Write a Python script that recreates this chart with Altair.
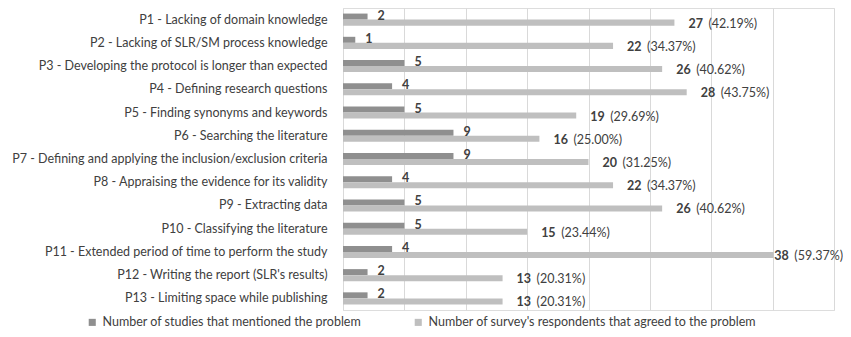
import altair as alt
import pandas as pd

categories = [
    "P1 - Lacking of domain knowledge",
    "P2  - Lacking of SLR/SM process knowledge",
    "P3  - Developing the protocol is longer than expected",
    "P4  - Defining research questions",
    "P5  - Finding synonyms and keywords",
    "P6  - Searching the literature",
    "P7  - Defining and applying the inclusion/exclusion criteria",
    "P8  - Appraising the evidence for its validity",
    "P9  - Extracting data",
    "P10 - Classifying the literature",
    "P11 - Extended period of time to perform the study",
    "P12 - Writing the report (SLR's results)",
    "P13 - Limiting space while publishing",
]
studies = [2, 1, 5, 4, 5, 9, 9, 4, 5, 5, 4, 2, 2]
survey = [27, 22, 26, 28, 19, 16, 20, 22, 26, 15, 38, 13, 13]
survey_pct = ["42.19%", "34.37%", "40.62%", "43.75%", "29.69%", "25.00%", "31.25%",
              "34.37%", "40.62%", "23.44%", "59.37%", "20.31%", "20.31%"]

S1 = "Number of studies that mentioned the problem"
S2 = "Number of survey's respondents that agreed to the problem"
XMAX = 40
LABEL_CLAMP = 34.0  # labels kept inside the chart area

rows = []
for c, a, b in zip(categories, studies, survey):
    rows.append({"cat": c, "series": S1, "value": a})
    rows.append({"cat": c, "series": S2, "value": b})
bars_df = pd.DataFrame(rows)

lab_df = pd.DataFrame({
    "cat": categories,
    "studies": studies,
    "survey": survey,
    "pct": ["(" + p + ")" for p in survey_pct],
})
lab_df["lx"] = lab_df["survey"].clip(upper=LABEL_CLAMP)
lab_df["cover"] = lab_df["lx"] + 1.1

FONT = "Lato"
TXT = "#404040"

xscale = alt.Scale(domain=[0, XMAX], nice=False, zero=True)
yscale = alt.Scale(domain=categories, paddingInner=0.48, paddingOuter=0.24)

base_y = alt.Y("cat:N", sort=categories, scale=yscale, title=None,
               axis=alt.Axis(domainOpacity=0, ticks=False, labelPadding=16, labelLimit=400,
                             labelFont=FONT, labelFontSize=12.5, labelColor=TXT, grid=False))

bars = alt.Chart(bars_df).mark_bar().encode(
    x=alt.X("value:Q", scale=xscale, title=None,
            axis=alt.Axis(values=list(range(0, XMAX + 1, 5)), labels=False, ticks=False,
                          domain=False, grid=True, gridColor="#d9d9d9", gridWidth=1)),
    y=base_y,
    yOffset=alt.YOffset("series:N", sort=[S1, S2], scale=alt.Scale(paddingInner=0, paddingOuter=0)),
    color=alt.Color("series:N", sort=[S1, S2],
                    scale=alt.Scale(domain=[S1, S2], range=["#8f8f8f", "#bfbfbf"]),
                    legend=alt.Legend(title=None, orient="none", direction="horizontal",
                                      legendX=-257, legendY=308, symbolType="square",
                                      symbolSize=50, symbolStrokeWidth=0, labelFont=FONT,
                                      labelFontSize=12.5, labelColor=TXT, labelLimit=500,
                                      columnPadding=50, symbolOffset=0, labelOffset=4)),
)

ycat = alt.Y("cat:N", sort=categories, scale=yscale)

cover = alt.Chart(lab_df).transform_filter("datum.survey > datum.lx").mark_bar(
    color="white", height=7, yOffset=3).encode(
    x=alt.X("cover:Q", scale=xscale), x2="survey:Q", y=ycat)

lab1 = alt.Chart(lab_df).mark_text(
    align="left", baseline="middle", dx=10, dy=-4, font=FONT, fontSize=12.5,
    fontWeight="bold", color=TXT).encode(
    x=alt.X("studies:Q", scale=xscale), y=ycat, text="studies:Q")

lab2 = alt.Chart(lab_df).mark_text(
    align="left", baseline="middle", dx=14, dy=4, font=FONT, fontSize=12.5,
    fontWeight="bold", color=TXT).encode(
    x=alt.X("lx:Q", scale=xscale), y=ycat, text="survey:Q")

lab3 = alt.Chart(lab_df).mark_text(
    align="left", baseline="middle", dx=34, dy=4, font=FONT, fontSize=12.5,
    color=TXT).encode(
    x=alt.X("lx:Q", scale=xscale), y=ycat, text="pct:N")

chart = alt.layer(bars, cover, lab1, lab2, lab3).properties(
    width=491, height=302,
    autosize=alt.AutoSizeParams(type="none"),
    padding={"left": 335, "top": 0, "right": 9, "bottom": 19},
).configure_view(stroke=None).configure(background="white")

chart.save("out.html", embed_options={"renderer": "svg", "actions": False})
